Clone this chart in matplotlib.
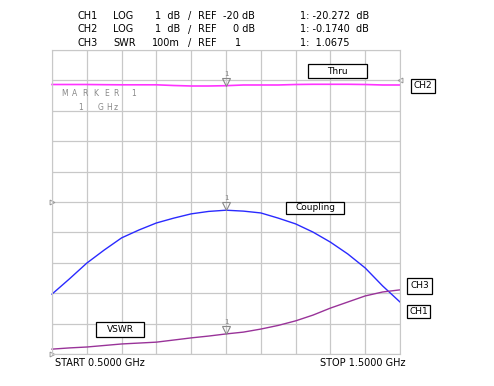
import numpy as np
import matplotlib
matplotlib.use("Agg")
import matplotlib.pyplot as plt

# frequency sweep, GHz
freq = [0.50, 0.55, 0.60, 0.65, 0.70, 0.75, 0.80, 0.85, 0.90, 0.95, 1.00,
        1.05, 1.10, 1.15, 1.20, 1.25, 1.30, 1.35, 1.40, 1.45, 1.50]
# CH1 coupling, dB
coupling = [-23.03, -22.53, -22.01, -21.58, -21.18, -20.92, -20.69, -20.53, -20.39, -20.31, -20.27,
            -20.30, -20.36, -20.53, -20.72, -20.99, -21.32, -21.71, -22.17, -22.76, -23.29]
# CH2 thru, dB
thru = [-0.135, -0.135, -0.135, -0.141, -0.145, -0.145, -0.145, -0.168, -0.184, -0.184, -0.174,
        -0.151, -0.151, -0.151, -0.135, -0.128, -0.128, -0.128, -0.135, -0.151, -0.151]
# CH3 VSWR
vswr = [1.016, 1.020, 1.023, 1.028, 1.033, 1.036, 1.039, 1.046, 1.053, 1.059, 1.066,
        1.072, 1.082, 1.094, 1.109, 1.128, 1.151, 1.171, 1.191, 1.204, 1.211]

marker_f = 1.0

# channel scale settings -> grid divisions (0..10)
def ch1_div(v):
    return 5 + (np.asarray(v) + 20) / 1.0

def ch2_div(v):
    return 9 + np.asarray(v) / 1.0

def ch3_div(v):
    return (np.asarray(v) - 1) / 0.1

W, H = 494, 386
fig = plt.figure(figsize=(W / 100, H / 100), dpi=100)
ax = fig.add_axes([52 / W, 1 - 354 / H, 348 / W, 304 / H])
ax.set_xlim(0.5, 1.5)
ax.set_ylim(0, 10)
ax.set_xticks(np.linspace(0.5, 1.5, 11))
ax.set_yticks(range(11))
ax.grid(True, color="#c8c8c8", lw=0.9)
ax.tick_params(length=0, labelbottom=False, labelleft=False)
for s in ax.spines.values():
    s.set_color("#c8c8c8")
ax.set_axisbelow(True)

blue = "#2a2aff"
pink = "#ff33ff"
purple = "#993399"
ax.plot(freq, ch2_div(thru), color=pink, lw=1.2, clip_on=False)
ax.plot(freq, ch1_div(coupling), color=blue, lw=1.0, clip_on=False)
ax.plot(freq, ch3_div(vswr), color=purple, lw=1.0, clip_on=False)

# marker 1 triangles
mi = freq.index(marker_f)
for yv in [ch2_div(thru[mi]), ch1_div(coupling[mi]), ch3_div(vswr[mi])]:
    ax.plot(marker_f, yv + 0.13, marker="v", ms=6, mfc="none", mec="#888888", mew=0.8)
    ax.text(marker_f, yv + 0.3, "1", fontsize=5, color="#888888", ha="center", va="bottom")

# reference position markers
ax.plot(0.5, 5, marker=">", ms=3.5, mfc="none", mec="#999999", mew=0.7, clip_on=False)
ax.plot(0.5, 0, marker=">", ms=3.5, mfc="none", mec="#999999", mew=0.7, clip_on=False)
ax.plot(1.5, 9, marker="<", ms=3.5, mfc="none", mec="#999999", mew=0.7, clip_on=False)

# header
fs = 7
rows = [("CH1", "LOG", "1  dB", "REF", "-20 dB", "1: -20.272  dB"),
        ("CH2", "LOG", "1  dB", "REF", "0 dB", "1: -0.1740  dB"),
        ("CH3", "SWR", "100m", "REF", "1", "1:  1.0675")]
for i, r in enumerate(rows):
    y = 1 - (16 + 13.5 * i) / H
    fig.text(77 / W, y, r[0], fontsize=fs, va="center")
    fig.text(113 / W, y, r[1], fontsize=fs, va="center")
    fig.text(180 / W, y, r[2], fontsize=fs, va="center", ha="right")
    fig.text(188 / W, y, "/", fontsize=fs, va="center")
    fig.text(198 / W, y, r[3], fontsize=fs, va="center")
    if i == 2:
        fig.text(235 / W, y, r[4], fontsize=fs, va="center")
    else:
        fig.text(255 / W, y, r[4], fontsize=fs, va="center", ha="right")
    fig.text(300 / W, y, r[5], fontsize=fs, va="center")

grey = "#888888"
for ch, xp in zip("MARKER", [61, 72, 82, 93, 104, 113]):
    fig.text(xp / W, 1 - 94 / H, ch, fontsize=5.5, color=grey, va="center")
fig.text(131 / W, 1 - 94 / H, "1", fontsize=5.5, color=grey, va="center")
fig.text(78 / W, 1 - 108 / H, "1", fontsize=5.5, color=grey, va="center")
for ch, xp in zip("GHz", [98, 106, 114]):
    fig.text(xp / W, 1 - 108 / H, ch, fontsize=5.5, color=grey, va="center")

fig.text(55 / W, 1 - 363 / H, "START 0.5000 GHz", fontsize=fs, va="center")
fig.text(320 / W, 1 - 363 / H, "STOP 1.5000 GHz", fontsize=fs, va="center")

# label boxes (x0, y0, x1, y1 in pixels)
boxes = [("Thru", 308, 64, 367, 78), ("CH2", 411, 79, 435, 93),
         ("Coupling", 286, 202, 344, 214), ("CH3", 407, 278, 432, 294),
         ("CH1", 407, 305, 430, 318), ("VSWR", 96, 322, 144, 337)]
for name, x0, y0, x1, y1 in boxes:
    fig.patches.append(plt.Rectangle((x0 / W, 1 - y1 / H), (x1 - x0) / W, (y1 - y0) / H,
                                     transform=fig.transFigure, fill=True, fc="white",
                                     ec="black", lw=0.9, zorder=5))
    fig.text((x0 + x1) / 2 / W, 1 - (y0 + y1) / 2 / H, name, fontsize=6.5,
             ha="center", va="center", zorder=6)

fig.savefig("out.png", dpi=100)
